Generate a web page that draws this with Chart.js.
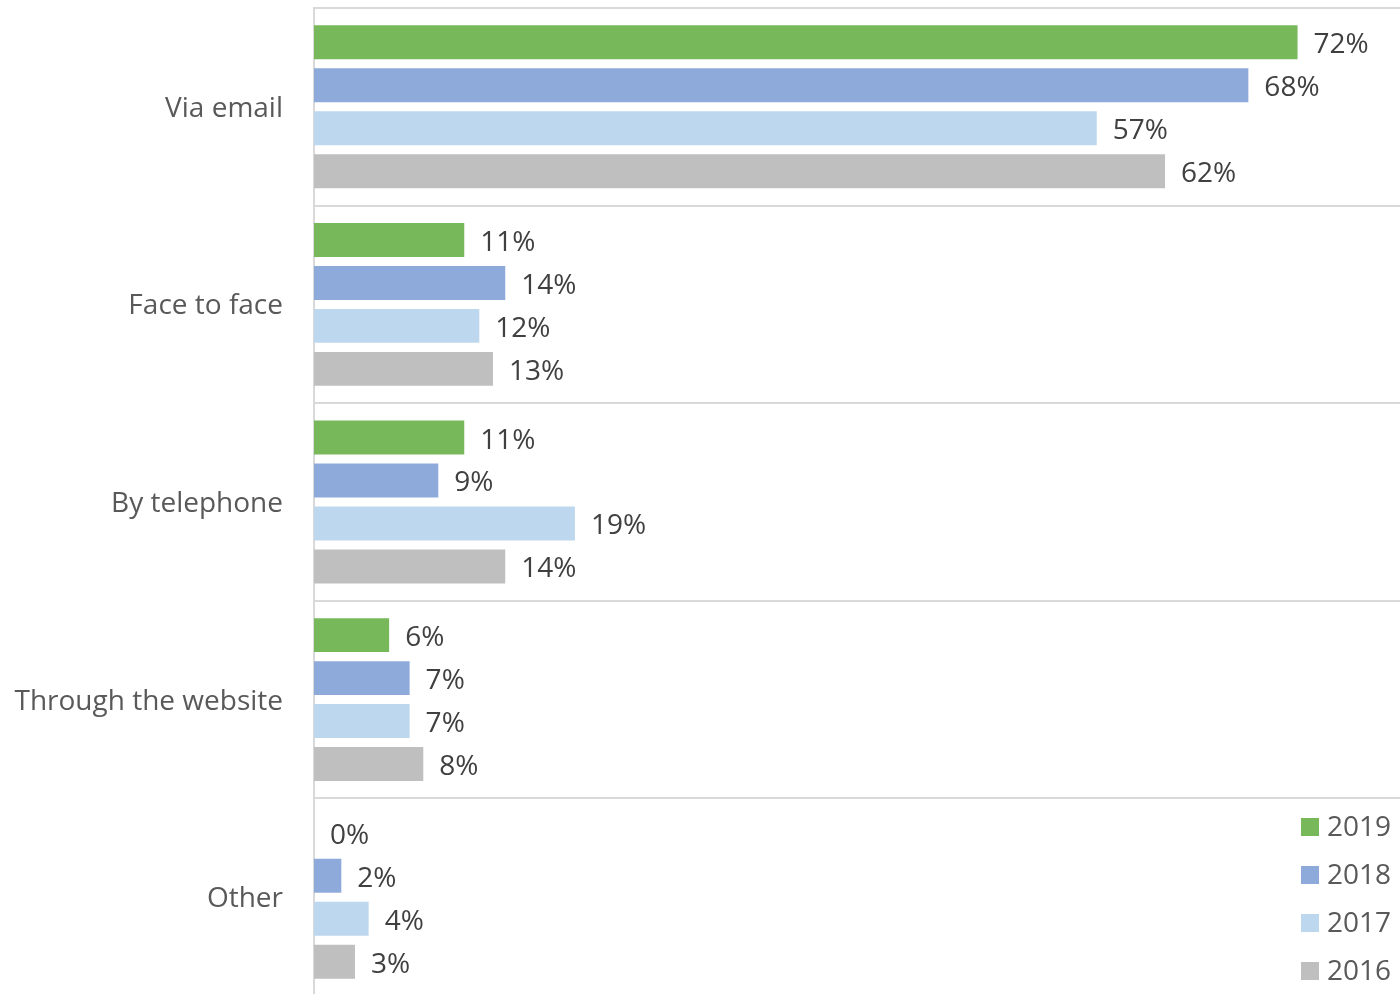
<!DOCTYPE html>
<html>
<head>
<meta charset="utf-8">
<script src="https://cdn.jsdelivr.net/npm/chart.js@4.4.1/dist/chart.umd.min.js"></script>
<style>
html,body{margin:0;padding:0;background:#fff;overflow:hidden;}
#wrap{width:1400px;height:996px;position:relative;}
</style>
</head>
<body>
<div id="wrap"><canvas id="c"></canvas></div>
<script>
const categories = ["Via email", "Face to face", "By telephone", "Through the website", "Other"];
const seriesNames = ["2019", "2018", "2017", "2016"];
const values2019 = [72, 11, 11, 5.5, 0];
const values2018 = [68.4, 14, 9.1, 7, 2];
const values2017 = [57.3, 12.1, 19.1, 7, 4];
const values2016 = [62.3, 13.1, 14, 8, 3];
const colors = ["#77B95A", "#8EAADB", "#BDD7EE", "#BFBFBF"];

const FONT = "'Open Sans', 'DejaVu Sans', sans-serif";

const labelPlugin = {
  id: 'barLabels',
  afterDatasetsDraw(chart) {
    const ctx = chart.ctx;
    ctx.save();
    ctx.font = "28px " + FONT;
    ctx.fillStyle = "#404040";
    ctx.textAlign = "left";
    ctx.textBaseline = "middle";
    chart.data.datasets.forEach((ds, di) => {
      const meta = chart.getDatasetMeta(di);
      meta.data.forEach((bar, i) => {
        const v = ds.data[i];
        ctx.fillText(Math.round(v) + "%", bar.x + 16, bar.y + 3);
      });
    });
    ctx.restore();
  }
};

const legendPlugin = {
  id: 'customLegend',
  afterDraw(chart) {
    const ctx = chart.ctx;
    ctx.save();
    ctx.font = "28px " + FONT;
    ctx.textAlign = "left";
    ctx.textBaseline = "middle";
    chart.data.datasets.forEach((ds, i) => {
      const cy = 827 + i * 48;
      ctx.fillStyle = ds.backgroundColor;
      ctx.fillRect(1301, cy - 9, 18, 18);
      ctx.fillStyle = "#595959";
      ctx.fillText(ds.label, 1327, cy + 1);
    });
    ctx.restore();
  }
};

const allValues = [values2019, values2018, values2017, values2016];

new Chart(document.getElementById('c'), {
  type: 'bar',
  data: {
    labels: categories,
    datasets: seriesNames.map((n, i) => ({
      label: n,
      data: allValues[i],
      backgroundColor: colors[i],
      borderWidth: 0,
      categoryPercentage: 0.87,
      barPercentage: 0.79
    }))
  },
  options: {
    indexAxis: 'y',
    responsive: true,
    maintainAspectRatio: false,
    animation: false,
    layout: { padding: { top: 8, right: 0, bottom: 0, left: 0 } },
    plugins: { legend: { display: false }, tooltip: { enabled: false } },
    scales: {
      x: {
        display: false,
        min: 0,
        max: 79.5
      },
      y: {
        grid: { color: "#d9d9d9", lineWidth: 2, drawTicks: false, offset: true },
        border: { display: true, color: "#d9d9d9", width: 2 },
        ticks: { font: { family: FONT, size: 28 }, color: "#595959", padding: 31, labelOffset: 2 },
        afterFit(scale) {
          scale.width = 314;
          scale.paddingTop = 0;
          scale.paddingBottom = 0;
        }
      }
    }
  },
  plugins: [labelPlugin, legendPlugin]
});
</script>
</body>
</html>
